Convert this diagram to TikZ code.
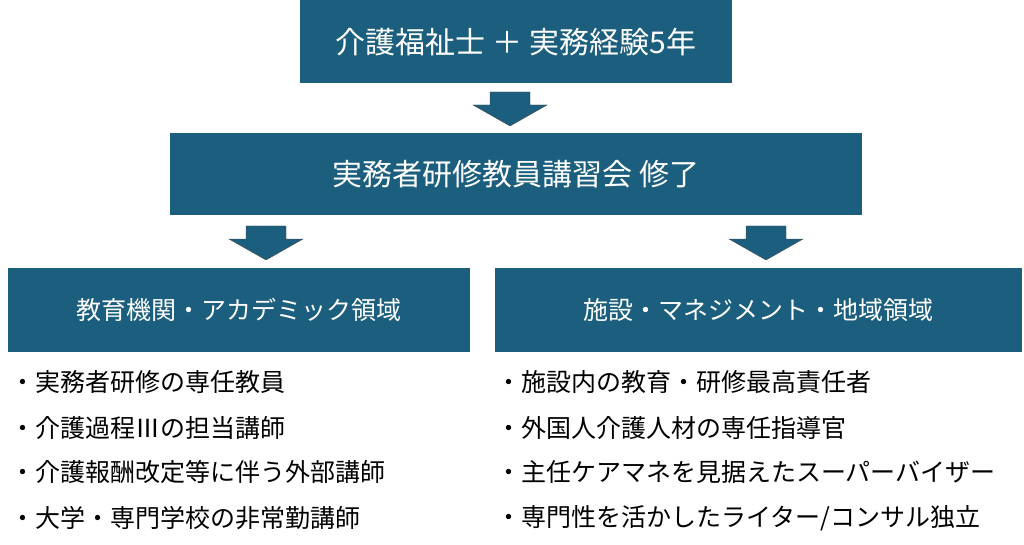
\documentclass[tikz,border=0pt]{standalone}
\usepackage{fontspec}
\setmainfont{Noto Sans CJK JP}
\definecolor{boxc}{HTML}{1B5E7E}
\begin{document}
\begin{tikzpicture}[x=1pt,y=-1pt,
 box/.style={fill=boxc,draw=none,text=white,inner sep=0},
 arr/.style={fill=boxc,draw=black!70,line width=0.4pt},
 item/.style={anchor=west,font=\fontsize{25}{30}\selectfont,inner sep=0}]
\useasboundingbox (0,0) rectangle (1024,545);
\fill[box] (300,0) rectangle (732,83);
\node[text=white,font=\fontsize{30}{34}\selectfont] (t1) at (516,42) {介護福祉士 ＋ 実務経験5年};
\fill[box] (170,133) rectangle (862,215);
\node[text=white,font=\fontsize{30}{34}\selectfont] (t2) at (516,174) {実務者研修教員講習会 修了};
\fill[box] (8,268) rectangle (470,352);
\node[text=white,font=\fontsize{25}{30}\selectfont] (t3) at (239,310) {教育機関・アカデミック領域};
\fill[box] (495,268) rectangle (1022,352);
\node[text=white,font=\fontsize{25}{30}\selectfont] (t4) at (758,310) {施設・マネジメント・地域領域};
\foreach \c/\t in {510/92,266/226,766/226}{
 \draw[arr] (\c-20,\t) -- (\c+20,\t) -- (\c+20,\t+13) -- (\c+37,\t+13) -- (\c,\t+34) -- (\c-37,\t+13) -- (\c-20,\t+13) -- cycle;}
\node[item] (a1) at (10,382) {・実務者研修の専任教員};
\node[item] (a2) at (10,428) {・介護過程Ⅲの担当講師};
\node[item] (a3) at (10,472) {・介護報酬改定等に伴う外部講師};
\node[item] (a4) at (10,518) {・大学・専門学校の非常勤講師};
\node[item] (b1) at (496,382) {・施設内の教育・研修最高責任者};
\node[item] (b2) at (496,428) {・外国人介護人材の専任指導官};
\node[item] (b3) at (496,472) {・主任ケアマネを見据えたスーパーバイザー};
\node[item] (b4) at (496,518) {・専門性を活かしたライター/コンサル独立};
\end{tikzpicture}
\end{document}
